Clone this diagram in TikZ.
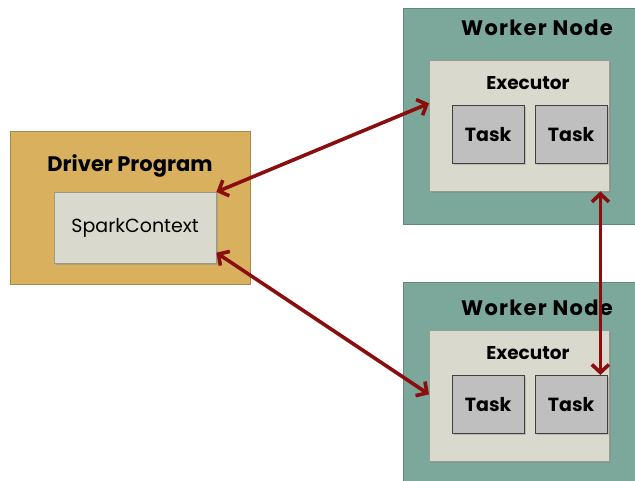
\documentclass[tikz,border=0pt]{standalone}
\usepackage{fontspec}
\setmainfont{Poppins}
\usepackage{xcolor}
\usepackage{tikz}
\usetikzlibrary{calc,shadows,arrows.meta}

\definecolor{drivertan}{HTML}{D9B15E}
\definecolor{drivertanborder}{HTML}{A8884A}
\definecolor{workerteal}{HTML}{7BA89B}
\definecolor{workertealborder}{HTML}{5E8A7E}
\definecolor{execgrey}{HTML}{D9DACD}
\definecolor{taskgrey}{HTML}{BFBFBF}
\definecolor{linkred}{HTML}{8B0E0E}

\tikzstyle{line} = [draw=linkred, line width=3.6pt, {Straight Barb[length=8pt,width=17pt]}-{Straight Barb[length=8pt,width=17pt]}]
\tikzstyle{driverbox} = [rectangle, draw=drivertanborder, fill=drivertan, anchor=north west, minimum width=240pt, minimum height=153pt]
\tikzstyle{workerbox} = [rectangle, draw=workertealborder, fill=workerteal, anchor=north west, minimum width=240pt, minimum height=216pt]
\tikzstyle{ctxbox} = [rectangle, draw=execgrey!70!black, fill=execgrey, anchor=north west, minimum width=162pt, minimum height=71pt, drop shadow={shadow xshift=2pt, shadow yshift=-2pt, opacity=0.35}]
\tikzstyle{execbox} = [rectangle, draw=execgrey!70!black, fill=execgrey, anchor=north west, minimum width=180pt, minimum height=131pt, drop shadow={shadow xshift=2pt, shadow yshift=-2pt, opacity=0.35}]
\tikzstyle{taskbox} = [rectangle, draw=black!75, fill=taskgrey, anchor=north west, minimum width=72pt, minimum height=58pt, font=\fontsize{19}{22}\selectfont\bfseries, drop shadow={shadow xshift=1.5pt, shadow yshift=-1.5pt, opacity=0.35}]
\tikzstyle{title} = [font=\fontsize{21}{24}\selectfont\bfseries]
\tikzstyle{wtitle} = [font=\fontsize{21}{24}\selectfont\bfseries\addfontfeature{LetterSpace=6}]
\tikzstyle{subtitle} = [font=\fontsize{18.5}{21}\selectfont\bfseries]

\begin{document}
\begin{tikzpicture}[x=1pt, y=-1pt]

\useasboundingbox (0,0) rectangle (635,481);

% driver side
\node [driverbox] (driver) at (10,131) {};
\node [title] (drivertitle) at (130,166) {Driver Program};
\node [ctxbox, font=\fontsize{19}{22}\selectfont] (context) at (54,192) {SparkContext};

% first worker
\node [workerbox] (worker1) at (403,8) {};
\node [wtitle] (worker1title) at (537,28) {Worker Node};
\node [execbox] (exec1) at (429,60) {};
\node [subtitle] (exec1title) at (528,83) {Executor};
\node [taskbox] (task11) at (452,105) {Task};
\node [taskbox] (task12) at (535,105) {Task};

% second worker
\node [workerbox] (worker2) at (403,282) {};
\node [wtitle] (worker2title) at (537,308) {Worker Node};
\node [execbox] (exec2) at (429,330) {};
\node [subtitle] (exec2title) at (528,353) {Executor};
\node [taskbox] (task21) at (452,375) {Task};
\node [taskbox] (task22) at (535,375) {Task};

% links
\coordinate (ctxlow) at ($(context.north east)!0.85!(context.south east)$);
\coordinate (exec1in) at ($(exec1.north west)!0.33!(exec1.south west)$);
\coordinate (exec2in) at ($(exec2.north west)!0.49!(exec2.south west)$);
\coordinate (task22in) at ($(task22.north east)+(-7,0)$);

\path [line] (context.north east) -- (exec1in);
\path [line] (ctxlow) -- (exec2in);
\path [line] (exec1.south -| task22in) -- (task22in);

\end{tikzpicture}
\end{document}
